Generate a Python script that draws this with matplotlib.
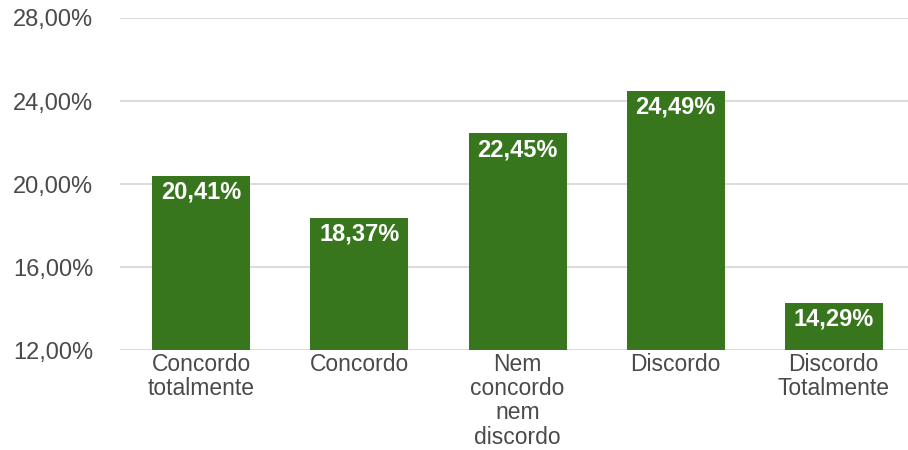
import matplotlib
matplotlib.use("Agg")
import matplotlib.pyplot as plt
from matplotlib.ticker import FuncFormatter

categories = ["Concordo\ntotalmente", "Concordo", "Nem\nconcordo\nnem\ndiscordo",
              "Discordo", "Discordo\nTotalmente"]
values = [20.41, 18.37, 22.45, 24.49, 14.29]
yticks = [12, 16, 20, 24, 28]

plt.rcParams["font.family"] = ["Liberation Sans", "DejaVu Sans"]

fig = plt.figure(figsize=(9.08, 4.5), dpi=100)
ax = fig.add_axes([0.132, 0.222, 0.868, 0.738])

x = list(range(len(categories)))
bars = ax.bar(x, values, width=0.62, color="#38761d", zorder=3)

ax.set_ylim(12, 28)
ax.set_xlim(-0.516, 4.47)
ax.set_yticks(yticks)
ax.yaxis.set_major_formatter(FuncFormatter(lambda v, p: f"{v:.2f}%".replace(".", ",")))
ax.grid(axis="y", color="#d4d4d4", linewidth=1.2, zorder=0)
ax.set_axisbelow(True)

for s in ax.spines.values():
    s.set_visible(False)

ax.tick_params(axis="y", length=0, pad=19, labelsize=17, labelcolor="#4a4a4a")
ax.tick_params(axis="x", length=0, pad=2, labelsize=16.5, labelcolor="#4a4a4a")
ax.set_xticks(x)
ax.set_xticklabels(categories, linespacing=1.07)

for xi, v in zip(x, values):
    ax.annotate(f"{v:.2f}%".replace(".", ","), (xi, v), xytext=(0, -3.5),
                textcoords="offset points", ha="center", va="top",
                color="white", fontsize=17, fontweight="bold", zorder=4)

fig.savefig("out.png", dpi=100)
